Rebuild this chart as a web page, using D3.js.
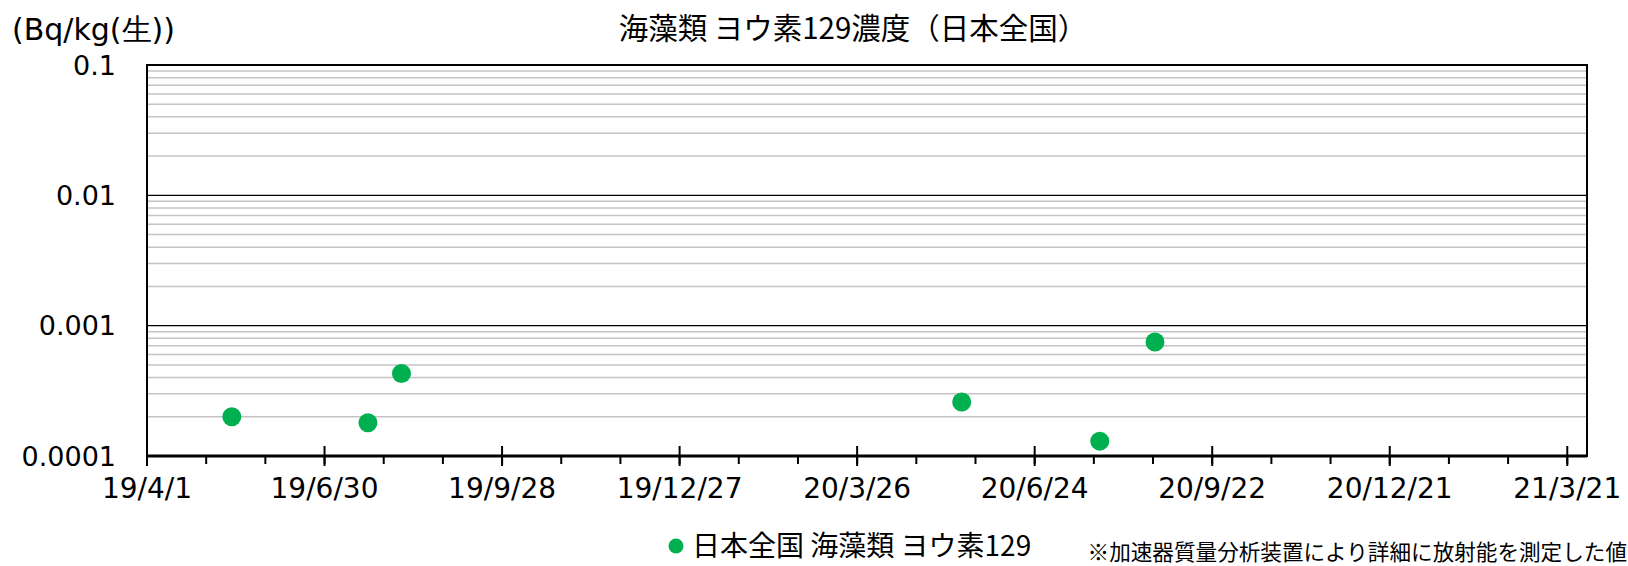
<!DOCTYPE html>
<html>
<head>
<meta charset="utf-8">
<script src="https://cdn.jsdelivr.net/npm/d3@7"></script>
<style>
  html, body { margin: 0; padding: 0; background: #fff; }
  svg { display: block; }
  .lat { font-family: "DejaVu Sans", sans-serif; fill: #000; }
  .jp { font-family: "Noto Sans CJK JP", sans-serif; fill: #000; }
</style>
</head>
<body>
<div id="chart"></div>
<script>
// sample dates and I-129 concentration (Bq/kg raw)
var sampleDates = ["2019-05-14", "2019-07-22", "2019-08-08", "2020-05-18", "2020-07-27", "2020-08-24"];
var iodine129 = [0.00020, 0.00018, 0.00043, 0.00026, 0.00013, 0.00075];

var xTicks = ["2019-04-01", "2019-06-30", "2019-09-28", "2019-12-27", "2020-03-26",
              "2020-06-24", "2020-09-22", "2020-12-21", "2021-03-21"];
var xTickLabels = ["19/4/1", "19/6/30", "19/9/28", "19/12/27", "20/3/26",
                   "20/6/24", "20/9/22", "20/12/21", "21/3/21"];
var yTicks = [0.0001, 0.001, 0.01, 0.1];
var yTickLabels = ["0.0001", "0.001", "0.01", "0.1"];

var titleText = "海藻類 ヨウ素129濃度（日本全国）";
var unitText = "(Bq/kg(生))";
var seriesName = "日本全国 海藻類 ヨウ素129";
var noteText = "※加速器質量分析装置により詳細に放射能を測定した値";

var width = 1628, height = 566,
    margin = {top: 65, right: 41, bottom: 110, left: 147},
    green = "#00b050";

var parse = d3.utcParse("%Y-%m-%d");

var x = d3.scaleUtc()
    .domain([parse("2019-04-01"), parse("2021-03-31")])
    .range([margin.left, width - margin.right]);
var y = d3.scaleLog()
    .domain([0.0001, 0.1])
    .range([height - margin.bottom, margin.top]);

var svg = d3.select("#chart").append("svg")
    .attr("width", width)
    .attr("height", height);

// minor gridlines (2..9 of each decade)
var minor = [];
yTicks.slice(0, -1).forEach(function(d) {
  for (var k = 2; k <= 9; k++) minor.push(d * k);
});
svg.append("g").selectAll("line").data(minor).join("line")
    .attr("x1", margin.left).attr("x2", width - margin.right)
    .attr("y1", function(d) { return y(d); })
    .attr("y2", function(d) { return y(d); })
    .attr("stroke", "#c4c4c4")
    .attr("stroke-width", 1.5);

// major gridlines
svg.append("g").selectAll("line").data(yTicks.slice(1, -1)).join("line")
    .attr("x1", margin.left).attr("x2", width - margin.right)
    .attr("y1", function(d) { return y(d); })
    .attr("y2", function(d) { return y(d); })
    .attr("stroke", "#000")
    .attr("stroke-width", 1.3);

// plot frame
svg.append("rect")
    .attr("x", margin.left).attr("y", margin.top)
    .attr("width", width - margin.left - margin.right)
    .attr("height", height - margin.top - margin.bottom)
    .attr("fill", "none")
    .attr("stroke", "#000")
    .attr("stroke-width", 2);

// x axis: minor ticks every 30 days, major every 90 days
var start = parse(xTicks[0]);
var minorX = d3.range(0, 25).map(function(i) { return d3.utcDay.offset(start, i * 30); });
var axisY = y(0.0001);

svg.append("g").selectAll("line").data(minorX).join("line")
    .attr("x1", function(d) { return x(d); })
    .attr("x2", function(d) { return x(d); })
    .attr("y1", axisY).attr("y2", axisY + 8)
    .attr("stroke", "#000").attr("stroke-width", 2);

svg.append("g").selectAll("line").data(xTicks).join("line")
    .attr("x1", function(d) { return x(parse(d)); })
    .attr("x2", function(d) { return x(parse(d)); })
    .attr("y1", axisY - 10).attr("y2", axisY + 10)
    .attr("stroke", "#000").attr("stroke-width", 2);

svg.append("line")
    .attr("x1", margin.left).attr("x2", width - margin.right)
    .attr("y1", axisY).attr("y2", axisY)
    .attr("stroke", "#000").attr("stroke-width", 3);

svg.append("g").selectAll("text").data(xTicks).join("text")
    .attr("class", "lat")
    .attr("x", function(d) { return x(parse(d)); })
    .attr("y", 488)
    .attr("dy", "0.36em")
    .attr("text-anchor", "middle")
    .style("font-size", "28px")
    .text(function(d, i) { return xTickLabels[i]; });

// y labels
svg.append("g").selectAll("text").data(yTicks).join("text")
    .attr("class", "lat")
    .attr("x", 116)
    .attr("y", function(d) { return y(d); })
    .attr("dy", "0.36em")
    .attr("text-anchor", "end")
    .style("font-size", "27px")
    .text(function(d, i) { return yTickLabels[i]; });

// points
svg.append("g").selectAll("circle").data(iodine129).join("circle")
    .attr("cx", function(d, i) { return x(parse(sampleDates[i])); })
    .attr("cy", function(d) { return y(d); })
    .attr("r", 9.5)
    .attr("fill", green);

// titles
svg.append("text")
    .attr("class", "jp")
    .attr("x", 853).attr("y", 28).attr("dy", "0.36em")
    .attr("text-anchor", "middle")
    .style("font-size", "29.5px")
    .text(titleText);

svg.append("text")
    .attr("class", "lat")
    .attr("x", 12).attr("y", 29).attr("dy", "0.36em")
    .style("font-size", "30px")
    .text(unitText);

// legend
svg.append("circle")
    .attr("cx", 676).attr("cy", 546).attr("r", 7.5)
    .attr("fill", green);
svg.append("text")
    .attr("class", "jp")
    .attr("x", 692).attr("y", 546).attr("dy", "0.36em")
    .style("font-size", "28px")
    .text(seriesName);

svg.append("text")
    .attr("class", "jp")
    .attr("x", 1627).attr("y", 560)
    .attr("text-anchor", "end")
    .style("font-size", "21.6px")
    .text(noteText);
</script>
</body>
</html>
